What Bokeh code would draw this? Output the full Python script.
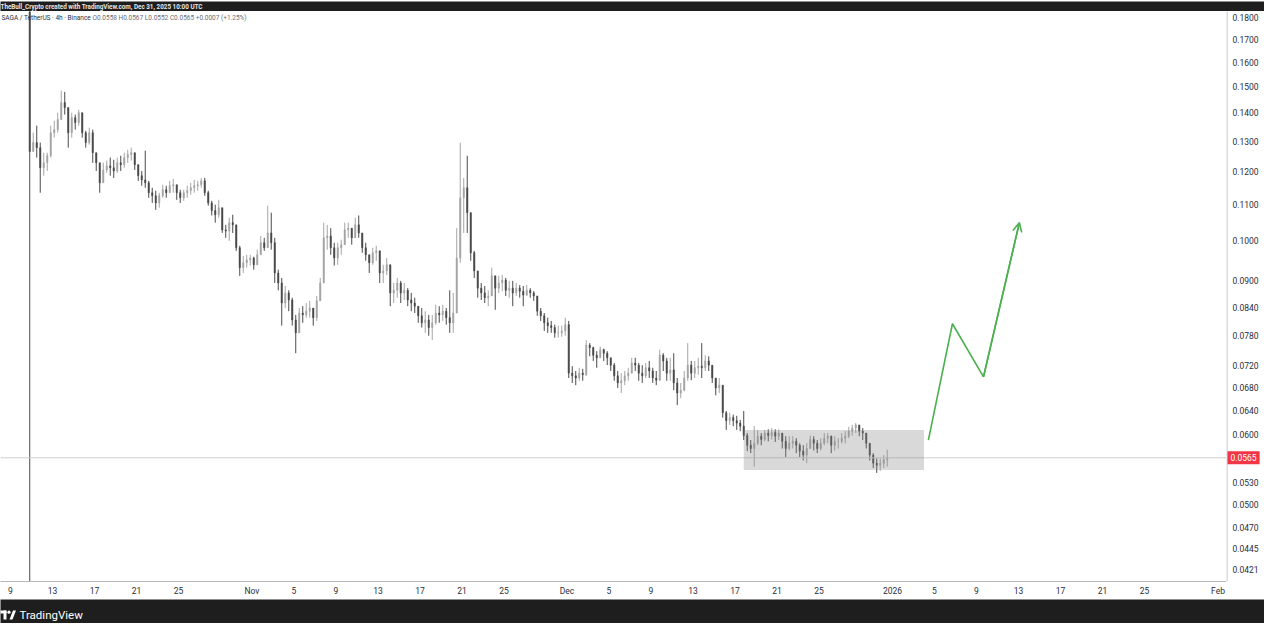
import pandas as pd
from bokeh.plotting import figure
from bokeh.layouts import column, row
from bokeh.models import (Range1d, FixedTicker, Span, Label,
                          BoxAnnotation, Arrow, OpenHead, ColumnDataSource)
from bokeh.core.properties import value
from bokeh.embed import file_html
from bokeh.resources import INLINE

# ---------------- data (SAGA / TetherUS, 8h candles) ----------------
first_candle = "2025-10-10 16:00"
candle_hours = 8
first_open = 0.2000

close = [0.1265, 0.1295, 0.1278, 0.1212, 0.1228, 0.1251, 0.1329, 0.1340, 0.1376, 0.1439,
         0.1420, 0.1329, 0.1383, 0.1365, 0.1401, 0.1329, 0.1295, 0.1329, 0.1261, 0.1228,
         0.1165, 0.1205, 0.1218, 0.1212, 0.1202, 0.1228, 0.1222, 0.1245, 0.1255, 0.1261,
         0.1222, 0.1187, 0.1174, 0.1165, 0.1135, 0.1126, 0.1105, 0.1126, 0.1144, 0.1135,
         0.1156, 0.1159, 0.1135, 0.1120, 0.1135, 0.1141, 0.1150, 0.1156, 0.1159, 0.1171,
         0.1135, 0.1105, 0.1083, 0.1071, 0.1091, 0.1029, 0.1026, 0.1049, 0.1043, 0.0982,
         0.0932, 0.0944, 0.0951, 0.0956, 0.0939, 0.0964, 0.0995, 0.0982, 0.1021, 0.0995,
         0.0919, 0.0895, 0.0849, 0.0872, 0.0856, 0.0812, 0.0785, 0.0827, 0.0823, 0.0831,
         0.0838, 0.0817, 0.0854, 0.0895, 0.1008, 0.1013, 0.0982, 0.0956, 0.0982, 0.0990,
         0.1029, 0.1034, 0.1008, 0.1043, 0.1021, 0.0982, 0.0964, 0.0944, 0.0969, 0.0974,
         0.0919, 0.0924, 0.0939, 0.0872, 0.0878, 0.0895, 0.0872, 0.0878, 0.0856, 0.0849,
         0.0842, 0.0821, 0.0806, 0.0812, 0.0796, 0.0806, 0.0827, 0.0823, 0.0831, 0.0817,
         0.0806, 0.0827, 0.0956, 0.1120, 0.1150, 0.1077, 0.0969, 0.0924, 0.0883, 0.0872,
         0.0861, 0.0865, 0.0912, 0.0883, 0.0895, 0.0902, 0.0878, 0.0883, 0.0872, 0.0883,
         0.0876, 0.0867, 0.0878, 0.0872, 0.0865, 0.0831, 0.0821, 0.0806, 0.0800, 0.0796,
         0.0785, 0.0785, 0.0789, 0.0802, 0.0706, 0.0701, 0.0697, 0.0706, 0.0703, 0.0760,
         0.0755, 0.0740, 0.0735, 0.0751, 0.0744, 0.0735, 0.0721, 0.0701, 0.0688, 0.0692,
         0.0701, 0.0706, 0.0725, 0.0721, 0.0706, 0.0701, 0.0716, 0.0710, 0.0697, 0.0693,
         0.0740, 0.0729, 0.0706, 0.0712, 0.0688, 0.0670, 0.0675, 0.0697, 0.0721, 0.0706,
         0.0716, 0.0719, 0.0716, 0.0729, 0.0721, 0.0697, 0.0679, 0.0684, 0.0636, 0.0623,
         0.0628, 0.0623, 0.0619, 0.0614, 0.0599, 0.0584, 0.0579, 0.0587, 0.0598, 0.0593,
         0.0603, 0.0599, 0.0604, 0.0598, 0.0603, 0.0590, 0.0579, 0.0587, 0.0590, 0.0584,
         0.0575, 0.0569, 0.0579, 0.0593, 0.0587, 0.0579, 0.0587, 0.0595, 0.0598, 0.0584,
         0.0590, 0.0590, 0.0595, 0.0598, 0.0606, 0.0611, 0.0616, 0.0606, 0.0603, 0.0587,
         0.0569, 0.0557, 0.0554, 0.0557, 0.0562, 0.0565]

high = [0.2100, 0.1329, 0.1354, 0.1295, 0.1261, 0.1261, 0.1354, 0.1372, 0.1401, 0.1485,
        0.1480, 0.1420, 0.1401, 0.1394, 0.1412, 0.1394, 0.1336, 0.1347, 0.1340, 0.1261,
        0.1228, 0.1228, 0.1235, 0.1245, 0.1238, 0.1245, 0.1251, 0.1261, 0.1271, 0.1278,
        0.1261, 0.1222, 0.1202, 0.1268, 0.1171, 0.1150, 0.1141, 0.1135, 0.1159, 0.1156,
        0.1171, 0.1177, 0.1159, 0.1144, 0.1144, 0.1156, 0.1165, 0.1174, 0.1171, 0.1180,
        0.1180, 0.1141, 0.1111, 0.1100, 0.1114, 0.1077, 0.1043, 0.1063, 0.1071, 0.1040,
        0.0987, 0.0961, 0.0964, 0.0964, 0.0959, 0.0977, 0.1013, 0.1008, 0.1097, 0.1077,
        0.1008, 0.0927, 0.0907, 0.0888, 0.0878, 0.0861, 0.0823, 0.0838, 0.0842, 0.0849,
        0.0854, 0.0838, 0.0865, 0.0907, 0.1049, 0.1043, 0.1034, 0.0995, 0.0995, 0.1003,
        0.1049, 0.1049, 0.1034, 0.1063, 0.1069, 0.1008, 0.0995, 0.0964, 0.0982, 0.0987,
        0.0964, 0.0939, 0.0956, 0.0939, 0.0895, 0.0907, 0.0900, 0.0895, 0.0883, 0.0872,
        0.0861, 0.0842, 0.0838, 0.0831, 0.0823, 0.0823, 0.0845, 0.0842, 0.0845, 0.0838,
        0.0878, 0.0872, 0.1034, 0.1295, 0.1180, 0.1251, 0.1063, 0.0974, 0.0907, 0.0895,
        0.0888, 0.0878, 0.0932, 0.0907, 0.0912, 0.0914, 0.0907, 0.0900, 0.0900, 0.0895,
        0.0890, 0.0888, 0.0890, 0.0883, 0.0876, 0.0861, 0.0838, 0.0827, 0.0817, 0.0810,
        0.0802, 0.0800, 0.0800, 0.0817, 0.0810, 0.0719, 0.0710, 0.0716, 0.0714, 0.0770,
        0.0764, 0.0757, 0.0748, 0.0757, 0.0753, 0.0748, 0.0735, 0.0725, 0.0710, 0.0706,
        0.0710, 0.0716, 0.0735, 0.0735, 0.0725, 0.0721, 0.0725, 0.0729, 0.0716, 0.0710,
        0.0751, 0.0744, 0.0735, 0.0735, 0.0744, 0.0697, 0.0688, 0.0710, 0.0764, 0.0729,
        0.0729, 0.0735, 0.0764, 0.0740, 0.0738, 0.0721, 0.0697, 0.0697, 0.0679, 0.0639,
        0.0636, 0.0633, 0.0631, 0.0624, 0.0639, 0.0603, 0.0592, 0.0614, 0.0608, 0.0603,
        0.0608, 0.0609, 0.0611, 0.0609, 0.0609, 0.0603, 0.0598, 0.0598, 0.0598, 0.0595,
        0.0587, 0.0584, 0.0587, 0.0599, 0.0598, 0.0592, 0.0595, 0.0603, 0.0603, 0.0599,
        0.0598, 0.0595, 0.0603, 0.0606, 0.0613, 0.0616, 0.0619, 0.0616, 0.0611, 0.0603,
        0.0587, 0.0572, 0.0564, 0.0564, 0.0569, 0.0577]

low = [0.0200, 0.1268, 0.1245, 0.1135, 0.1187, 0.1202, 0.1245, 0.1312, 0.1329, 0.1383,
       0.1394, 0.1278, 0.1312, 0.1340, 0.1354, 0.1312, 0.1278, 0.1288, 0.1228, 0.1202,
       0.1135, 0.1165, 0.1196, 0.1187, 0.1180, 0.1196, 0.1202, 0.1212, 0.1228, 0.1235,
       0.1205, 0.1171, 0.1156, 0.1150, 0.1120, 0.1105, 0.1085, 0.1091, 0.1120, 0.1120,
       0.1135, 0.1135, 0.1114, 0.1105, 0.1111, 0.1120, 0.1129, 0.1135, 0.1141, 0.1150,
       0.1126, 0.1097, 0.1069, 0.1049, 0.1063, 0.1021, 0.1008, 0.1000, 0.1021, 0.0974,
       0.0912, 0.0919, 0.0932, 0.0937, 0.0927, 0.0939, 0.0964, 0.0974, 0.0982, 0.0977,
       0.0895, 0.0878, 0.0800, 0.0838, 0.0831, 0.0800, 0.0744, 0.0796, 0.0806, 0.0817,
       0.0817, 0.0800, 0.0810, 0.0861, 0.0895, 0.0977, 0.0964, 0.0937, 0.0939, 0.0964,
       0.0995, 0.1008, 0.0990, 0.1008, 0.1008, 0.0969, 0.0949, 0.0919, 0.0939, 0.0949,
       0.0895, 0.0895, 0.0914, 0.0842, 0.0849, 0.0861, 0.0849, 0.0856, 0.0842, 0.0831,
       0.0827, 0.0806, 0.0796, 0.0785, 0.0779, 0.0770, 0.0802, 0.0806, 0.0810, 0.0802,
       0.0785, 0.0785, 0.0827, 0.0944, 0.1021, 0.1021, 0.0949, 0.0907, 0.0861, 0.0856,
       0.0849, 0.0842, 0.0865, 0.0834, 0.0872, 0.0876, 0.0865, 0.0861, 0.0842, 0.0865,
       0.0861, 0.0842, 0.0865, 0.0861, 0.0854, 0.0821, 0.0810, 0.0789, 0.0785, 0.0785,
       0.0775, 0.0775, 0.0777, 0.0779, 0.0697, 0.0688, 0.0684, 0.0692, 0.0692, 0.0701,
       0.0738, 0.0729, 0.0716, 0.0735, 0.0729, 0.0721, 0.0710, 0.0692, 0.0679, 0.0670,
       0.0684, 0.0692, 0.0706, 0.0710, 0.0692, 0.0688, 0.0697, 0.0697, 0.0688, 0.0684,
       0.0692, 0.0710, 0.0692, 0.0692, 0.0675, 0.0649, 0.0661, 0.0673, 0.0692, 0.0693,
       0.0697, 0.0703, 0.0697, 0.0710, 0.0710, 0.0688, 0.0666, 0.0670, 0.0628, 0.0608,
       0.0616, 0.0614, 0.0608, 0.0606, 0.0592, 0.0575, 0.0572, 0.0552, 0.0584, 0.0584,
       0.0590, 0.0590, 0.0593, 0.0589, 0.0592, 0.0579, 0.0566, 0.0576, 0.0579, 0.0572,
       0.0566, 0.0561, 0.0557, 0.0579, 0.0576, 0.0572, 0.0576, 0.0584, 0.0587, 0.0572,
       0.0576, 0.0579, 0.0587, 0.0587, 0.0595, 0.0599, 0.0603, 0.0598, 0.0592, 0.0579,
       0.0561, 0.0550, 0.0543, 0.0546, 0.0550, 0.0552]

x_tick_dates = ["2025-10-09", "2025-10-13", "2025-10-17", "2025-10-21", "2025-10-25",
                "2025-11-01", "2025-11-05", "2025-11-09", "2025-11-13", "2025-11-17",
                "2025-11-21", "2025-11-25", "2025-12-01", "2025-12-05", "2025-12-09",
                "2025-12-13", "2025-12-17", "2025-12-21", "2025-12-25", "2026-01-01",
                "2026-01-05", "2026-01-09", "2026-01-13", "2026-01-17", "2026-01-21",
                "2026-01-25", "2026-02-01"]
x_tick_labels = ["9", "13", "17", "21", "25", "Nov", "5", "9", "13", "17", "21", "25",
                 "Dec", "5", "9", "13", "17", "21", "25", "2026", "5", "9", "13", "17",
                 "21", "25", "Feb"]
y_ticks = [0.1800, 0.1700, 0.1600, 0.1500, 0.1400, 0.1300, 0.1200, 0.1100, 0.1000,
           0.0900, 0.0840, 0.0780, 0.0720, 0.0680, 0.0640, 0.0600, 0.0530, 0.0500,
           0.0470, 0.0445, 0.0421]
last_price = 0.0565

box_start, box_end = "2025-12-17 20:00", "2026-01-04 00:00"
box_low, box_high = 0.0547, 0.0608
arrow_dates = ["2026-01-04 10:00", "2026-01-06 17:00", "2026-01-09 16:00", "2026-01-13 02:00"]
arrow_prices = [0.0592, 0.0804, 0.0699, 0.1049]

view_start, view_end = "2025-10-08 01:09", "2026-02-01 19:26"
view_low, view_high = 0.04080, 0.18286

header_text = "TheBull_Crypto created with TradingView.com, Dec 31, 2025 10:00 UTC"
legend_title = "SAGA / TetherUS · 4h · Binance"
legend_ohlc = "O0.0558  H0.0567  L0.0552  C0.0565  +0.0007 (+1.25%)"

# ---------------- styling ----------------
DARK = "#1e1e1e"
UP = "#a4a4a4"
DOWN = "#4a4a4a"
GREEN = "#4caf50"
RED = "#f23645"
AXIS = "#b8b8b8"
TXT = "#2a2e39"
FONT = "Roboto"


def ms(s):
    return pd.Timestamp(s).value // 10**6


times = pd.date_range(first_candle, periods=len(close), freq=f"{candle_hours}h") + pd.Timedelta(hours=candle_hours / 2)
opens = [first_open] + close[:-1]
hi = [max(h, o, c) for h, o, c in zip(high, opens, close)]
lo = [min(l, o, c) for l, o, c in zip(low, opens, close)]
colors = [UP if c >= o else DOWN for o, c in zip(opens, close)]
src = ColumnDataSource(dict(
    x=times, hi=hi, lo=lo,
    top=[max(o, c) for o, c in zip(opens, close)],
    bot=[min(o, c) for o, c in zip(opens, close)],
    color=colors))

W = 1264
SCALE_W = 38
H = 588

# header bar
hdr = figure(width=W, height=11, x_range=Range1d(0, W), y_range=Range1d(0, 11),
             toolbar_location=None, output_backend="svg", min_border=0,
             background_fill_color=DARK, border_fill_color=DARK, outline_line_color=None)
hdr.axis.visible = False
hdr.grid.visible = False
hdr.add_layout(Label(x=0, y=5.5, text=header_text, text_baseline="middle",
                     text_font_size="6.3px", text_color="#e6e6e6", text_font=FONT,
                     text_font_style="bold"))

# main chart (time scale below)
yr = Range1d(view_low, view_high)
p = figure(width=W - SCALE_W, height=H, x_axis_type="datetime", y_axis_type="log",
           y_axis_location=None,
           x_range=Range1d(ms(view_start), ms(view_end)), y_range=yr,
           toolbar_location=None, output_backend="svg",
           min_border_left=0, min_border_top=0, min_border_right=0, min_border_bottom=18,
           background_fill_color="white", border_fill_color="white", outline_line_color=None)
p.grid.visible = False

p.segment(x0="x", y0="lo", x1="x", y1="hi", line_color="color", line_width=1, source=src)
p.vbar(x="x", top="top", bottom="bot", width=candle_hours * 3600 * 1000 * 0.4,
       fill_color="color", line_color="color", line_width=0.5, source=src)

p.add_layout(Span(location=last_price, dimension="width", line_color="#cfcfcf", line_width=1))
p.add_layout(BoxAnnotation(left=ms(box_start), right=ms(box_end), bottom=box_low, top=box_high,
                           fill_color="#8a8a8a", fill_alpha=0.32, line_color=None))

adates = [ms(d) for d in arrow_dates]
p.line(adates, arrow_prices, line_color=GREEN, line_width=1.6)
p.add_layout(Arrow(end=OpenHead(size=9, line_color=GREEN, line_width=1.6),
                   x_start=adates[-2], y_start=arrow_prices[-2],
                   x_end=adates[-1], y_end=arrow_prices[-1],
                   line_color=GREEN, line_width=1.6))

tick_ms = [ms(d) for d in x_tick_dates]
xa = p.xaxis[0]
xa.ticker = FixedTicker(ticks=tick_ms)
xa.major_label_overrides = {t: l for t, l in zip(tick_ms, x_tick_labels)}
xa.axis_line_color = AXIS
xa.major_tick_line_color = None
xa.minor_tick_line_color = None
xa.major_tick_out = 0
xa.major_tick_in = 0
xa.minor_tick_out = 0
xa.minor_tick_in = 0
xa.major_label_standoff = 4
xa.major_label_text_font = FONT
xa.major_label_text_font_size = "8.5px"
xa.major_label_text_color = TXT

# symbol legend
p.add_layout(Label(x=ms(view_start), y=view_high, x_offset=1, y_offset=-2,
                   text=legend_title, text_baseline="top", text_font=FONT,
                   text_font_size="6.5px", text_color=TXT))
p.add_layout(Label(x=ms(view_start), y=view_high, x_offset=92, y_offset=-2,
                   text=legend_ohlc, text_baseline="top", text_font=FONT,
                   text_font_size="6.5px", text_color="#6a6d78"))

# price scale (shares the log price range of the chart)
s = figure(width=SCALE_W, height=H, y_axis_type="log", y_range=yr,
           x_range=Range1d(0, SCALE_W), toolbar_location=None, output_backend="svg",
           min_border_left=0, min_border_top=0, min_border_right=0, min_border_bottom=18,
           background_fill_color="white", border_fill_color="white", outline_line_color=None)
s.axis.visible = False
s.grid.visible = False
s.add_layout(Span(location=0.5, dimension="height", line_color=AXIS, line_width=1))
s.text(x=[6] * len(y_ticks), y=y_ticks, text=[f"{v:.4f}" for v in y_ticks],
       text_baseline="middle", text_align="left", text_font=value(FONT),
       text_font_size="8.5px", text_color=TXT)
s.add_layout(Label(x=1, y=last_price, x_offset=0, text=f"{last_price:.4f}",
                   text_baseline="middle", text_align="left", text_font=FONT,
                   text_font_size="8.5px", text_color="white",
                   background_fill_color=RED, padding=3))

# footer bar
ftr = figure(width=W, height=24, x_range=Range1d(0, W), y_range=Range1d(0, 24),
             toolbar_location=None, output_backend="svg", min_border=0,
             background_fill_color=DARK, border_fill_color=DARK, outline_line_color=None)
ftr.axis.visible = False
ftr.grid.visible = False
ftr.quad(left=[-1], right=[6], bottom=[10], top=[13], fill_color="white", line_color=None)
ftr.quad(left=[3], right=[6], bottom=[4], top=[13], fill_color="white", line_color=None)
ftr.scatter(x=[8.5], y=[11.3], size=3.2, fill_color="white", line_color=None)
ftr.patch(x=[9, 12, 15.5, 12.5], y=[4, 4, 13, 13], fill_color="white", line_color=None)
ftr.add_layout(Label(x=19, y=8.5, text="TradingView", text_baseline="middle",
                     text_font_size="11.5px", text_color="white", text_font=FONT))

layout = column(hdr, row(p, s, spacing=0), ftr, spacing=0)
open("out.html", "w").write(file_html(layout, INLINE))
